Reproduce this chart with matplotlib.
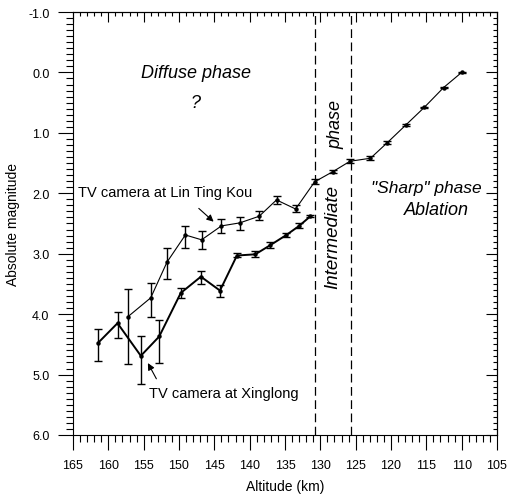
import matplotlib.pyplot as plt
from matplotlib.ticker import MultipleLocator, FormatStrFormatter

plt.rcParams['font.family'] = ['Liberation Sans', 'DejaVu Sans']

# TV camera at Lin Ting Kou
ltk_alt = [157.2, 154.0, 151.7, 149.1, 146.8, 144.0, 141.4, 138.65, 136.2, 133.5,
           130.8, 128.2, 125.8, 122.9, 120.5, 117.9, 115.3, 112.55, 110.0]
ltk_mag = [4.04, 3.73, 3.14, 2.69, 2.77, 2.54, 2.49, 2.38, 2.11, 2.26,
           1.81, 1.64, 1.47, 1.42, 1.16, 0.87, 0.58, 0.25, 0.0]
ltk_lo = [3.58, 3.48, 2.91, 2.54, 2.63, 2.43, 2.39, 2.30, 2.04, 2.19,
          1.77, 1.62, 1.43, 1.39, 1.14, 0.86, 0.57, 0.24, -0.01]
ltk_hi = [4.83, 4.05, 3.42, 2.91, 2.92, 2.66, 2.60, 2.45, 2.18, 2.31,
          1.85, 1.67, 1.50, 1.45, 1.18, 0.88, 0.59, 0.26, 0.01]

# TV camera at Xinglong
xl_alt = [161.4, 158.7, 155.4, 152.8, 149.75, 146.9, 144.2, 141.8, 139.2, 137.1,
          134.8, 133.0, 131.4]
xl_mag = [4.47, 4.15, 4.69, 4.37, 3.65, 3.38, 3.61, 3.03, 3.01, 2.86,
          2.69, 2.54, 2.38]
xl_lo = [4.25, 3.96, 4.36, 4.09, 3.56, 3.28, 3.51, 2.99, 2.95, 2.81,
         2.65, 2.50, 2.36]
xl_hi = [4.78, 4.39, 5.16, 4.81, 3.74, 3.50, 3.72, 3.06, 3.06, 2.90,
         2.73, 2.58, 2.40]

phase_bounds = [130.7, 125.7]

fig = plt.figure(figsize=(5.09, 5.02), dpi=100)
ax = fig.add_axes([0.1434, 0.1315, 0.833, 0.8426])

def err(m, lo, hi):
    return [[a - b for a, b in zip(m, lo)], [c - a for a, c in zip(m, hi)]]

ax.errorbar(ltk_alt, ltk_mag, yerr=err(ltk_mag, ltk_lo, ltk_hi), color='black',
            lw=0.8, elinewidth=1.0, capsize=3, capthick=1.0, marker='o', ms=2.2)
ax.errorbar(xl_alt, xl_mag, yerr=err(xl_mag, xl_lo, xl_hi), color='black',
            lw=1.4, elinewidth=1.0, capsize=3, capthick=1.0, marker='o', ms=2.2)

for b in phase_bounds:
    ax.axvline(b, color='black', lw=0.9, ls=(0, (7, 3.6)))

ax.set_xlim(165, 105)
ax.set_ylim(6, -1)

ax.xaxis.set_major_locator(MultipleLocator(5))
ax.xaxis.set_minor_locator(MultipleLocator(1))
ax.yaxis.set_major_locator(MultipleLocator(1))
ax.yaxis.set_minor_locator(MultipleLocator(0.1))
ax.yaxis.set_major_formatter(FormatStrFormatter('%.1f'))

ax.tick_params(which='major', direction='out', length=11, width=0.8, labelsize=9, pad=6)
ax.tick_params(which='minor', direction='out', length=5, width=0.8)

top = ax.secondary_xaxis('top')
top.xaxis.set_major_locator(MultipleLocator(5))
top.xaxis.set_minor_locator(MultipleLocator(1))
top.tick_params(which='major', direction='in', length=7, width=0.8, labeltop=False)
top.tick_params(which='minor', direction='in', length=3, width=0.8)
right = ax.secondary_yaxis('right')
right.yaxis.set_major_locator(MultipleLocator(1))
right.yaxis.set_minor_locator(MultipleLocator(0.1))
right.tick_params(which='major', direction='in', length=8, width=0.8, labelright=False)
right.tick_params(which='minor', direction='in', length=3, width=0.8)

for sp in list(ax.spines.values()) + [top.spines['top'], right.spines['right']]:
    sp.set_linewidth(0.8)

ax.set_xlabel('Altitude (km)', fontsize=10, labelpad=6)
ax.set_ylabel('Absolute magnitude', fontsize=10, labelpad=6)

ax.text(147.6, 0.0, 'Diffuse phase', fontsize=13, style='italic', ha='center', va='center')
ax.text(147.6, 0.5, '?', fontsize=13, style='italic', ha='center', va='center')
ax.text(128.2, 2.7, 'Intermediate', fontsize=13.5, style='italic', rotation=90,
        ha='center', va='center')
ax.text(127.8, 0.85, 'phase', fontsize=13, style='italic', rotation=90,
        ha='center', va='center')
ax.text(115.0, 1.9, '"Sharp" phase', fontsize=12.5, style='italic', ha='center', va='center')
ax.text(113.6, 2.27, 'Ablation', fontsize=13, style='italic', ha='center', va='center')

ax.annotate('TV camera at Lin Ting Kou', xy=(145.1, 2.47), xytext=(164.3, 1.98),
            fontsize=10.5, ha='left', va='center')
ax.annotate('', xy=(145.1, 2.47), xytext=(147.2, 2.25),
            arrowprops=dict(arrowstyle='-|>', color='black', lw=0.8,
                            mutation_scale=10, shrinkA=0, shrinkB=0))
ax.annotate('TV camera at Xinglong', xy=(154.4, 4.81), xytext=(154.2, 5.3),
            fontsize=10.5, ha='left', va='center')
ax.annotate('', xy=(154.4, 4.81), xytext=(153.2, 5.07),
            arrowprops=dict(arrowstyle='-|>', color='black', lw=0.8,
                            mutation_scale=10, shrinkA=0, shrinkB=0))

fig.savefig('out.png', dpi=100)
